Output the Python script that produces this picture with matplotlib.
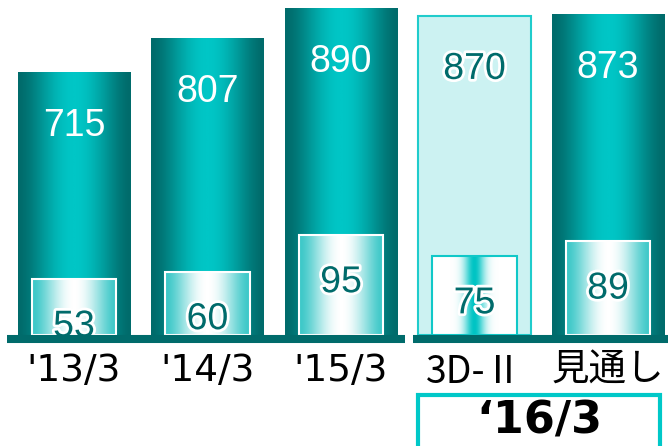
import numpy as np
import matplotlib
matplotlib.use("Agg")
import matplotlib.pyplot as plt
from matplotlib.colors import LinearSegmentedColormap
from matplotlib.patches import Rectangle
from matplotlib.lines import Line2D
import matplotlib.patheffects as pe

# data
labels = ["'13/3", "'14/3", "'15/3", "3D-Ⅱ", "見通し"]
total = [715, 807, 890, 870, 873]
inner = [53, 60, 95, 75, 89]
plan_idx = 3  # 3D-II は計画値 (薄い色)

DARK = "#006b6b"
CYAN = "#00c6c6"
LIGHT = "#ccf2f2"

plt.rcParams['font.family'] = ['DejaVu Sans', 'Noto Sans CJK JP']

W, H = 668, 446
fig = plt.figure(figsize=(W / 100, H / 100), dpi=100)
base_px = 335
ax = fig.add_axes([0, 1 - base_px / H, 1, base_px / H])
ax2 = ax.twinx()

# 横方向のグラデーション
t = np.linspace(0, 1, 256)
prof = np.cos((t - 0.5) * np.pi) ** 1.6
grad = prof[None, :]
cm_outer = LinearSegmentedColormap.from_list("outer", [DARK, CYAN])
cm_inner = LinearSegmentedColormap.from_list("inner", ["#3cc8c8", "#ffffff"])
prof2 = np.exp(-((t - 0.5) / 0.12) ** 2)
cm_plan = LinearSegmentedColormap.from_list("plan", ["#ffffff", "#00c4c4"])

x = np.arange(len(labels))
wo, wi = 0.84, 0.63

for i, v in enumerate(total):
    if i == plan_idx:
        ax.bar(x[i], v, wo, color=LIGHT, edgecolor="#20cccc", linewidth=1.5, zorder=1)
    else:
        ax.imshow(grad, extent=[x[i] - wo / 2, x[i] + wo / 2, 0, v], aspect='auto',
                  cmap=cm_outer, vmin=0, vmax=1, zorder=1)
    col = DARK if i == plan_idx else "white"
    txt = ax.text(x[i], v - 145, str(v), ha='center', va='center', fontsize=27,
                  color=col, family='Liberation Sans', zorder=5)
    if i == plan_idx:
        txt.set_path_effects([pe.withStroke(linewidth=4, foreground='white')])

for i, v in enumerate(inner):
    if i == plan_idx:
        ax2.imshow(prof2[None, :], extent=[x[i] - wi / 2, x[i] + wi / 2, 0, v], aspect='auto',
                   cmap=cm_plan, vmin=0, vmax=1, zorder=2)
        ec = "#10c8c8"
    else:
        ax2.imshow(grad, extent=[x[i] - wi / 2, x[i] + wi / 2, 0, v], aspect='auto',
                   cmap=cm_inner, vmin=0, vmax=1, zorder=2)
        ec = "white"
    ax2.bar(x[i], v, wi, fill=False, edgecolor=ec, linewidth=1.5, zorder=3)
    txt = ax2.text(x[i], v - 45, str(v), ha='center', va='center', fontsize=27,
                   color=DARK, family='Liberation Sans', zorder=5)
    txt.set_path_effects([pe.withStroke(linewidth=4, foreground='white')])

xl = (-74 / 133.5, (W - 74) / 133.5)
for a in (ax, ax2):
    a.set_xlim(*xl)
    for s in a.spines.values():
        s.set_visible(False)
    a.tick_params(length=0)
ax.set_ylim(0, base_px / 0.367)
ax2.set_ylim(0, base_px / 1.055)
ax.set_yticks([])
ax2.set_yticks([])
ax.set_xticks(x)
ax.set_xticklabels(labels, fontsize=27)
ax.get_xticklabels()[3].set_family(['Noto Sans CJK JP'])
ax.tick_params(axis='x', pad=13)
ax.patch.set_alpha(0)

# 基準線
yl = 1 - 339 / H
fig.add_artist(Line2D([7 / W, 405 / W], [yl, yl], lw=5.8, color=DARK, solid_capstyle='butt'))
fig.add_artist(Line2D([413 / W, 1], [yl, yl], lw=5.8, color=DARK, solid_capstyle='butt'))

# '16/3 の枠
fig.add_artist(Rectangle((418 / W, -0.05), 242 / W, 0.05 + (H - 395) / H,
                         transform=fig.transFigure, fill=False, edgecolor="#00c8c8", lw=3))
fig.text(539 / W, 1 - 421 / H, "‘16/3", ha='center', va='center', fontsize=32,
         fontweight='bold', color='black')

fig.savefig("out.png", dpi=100)
